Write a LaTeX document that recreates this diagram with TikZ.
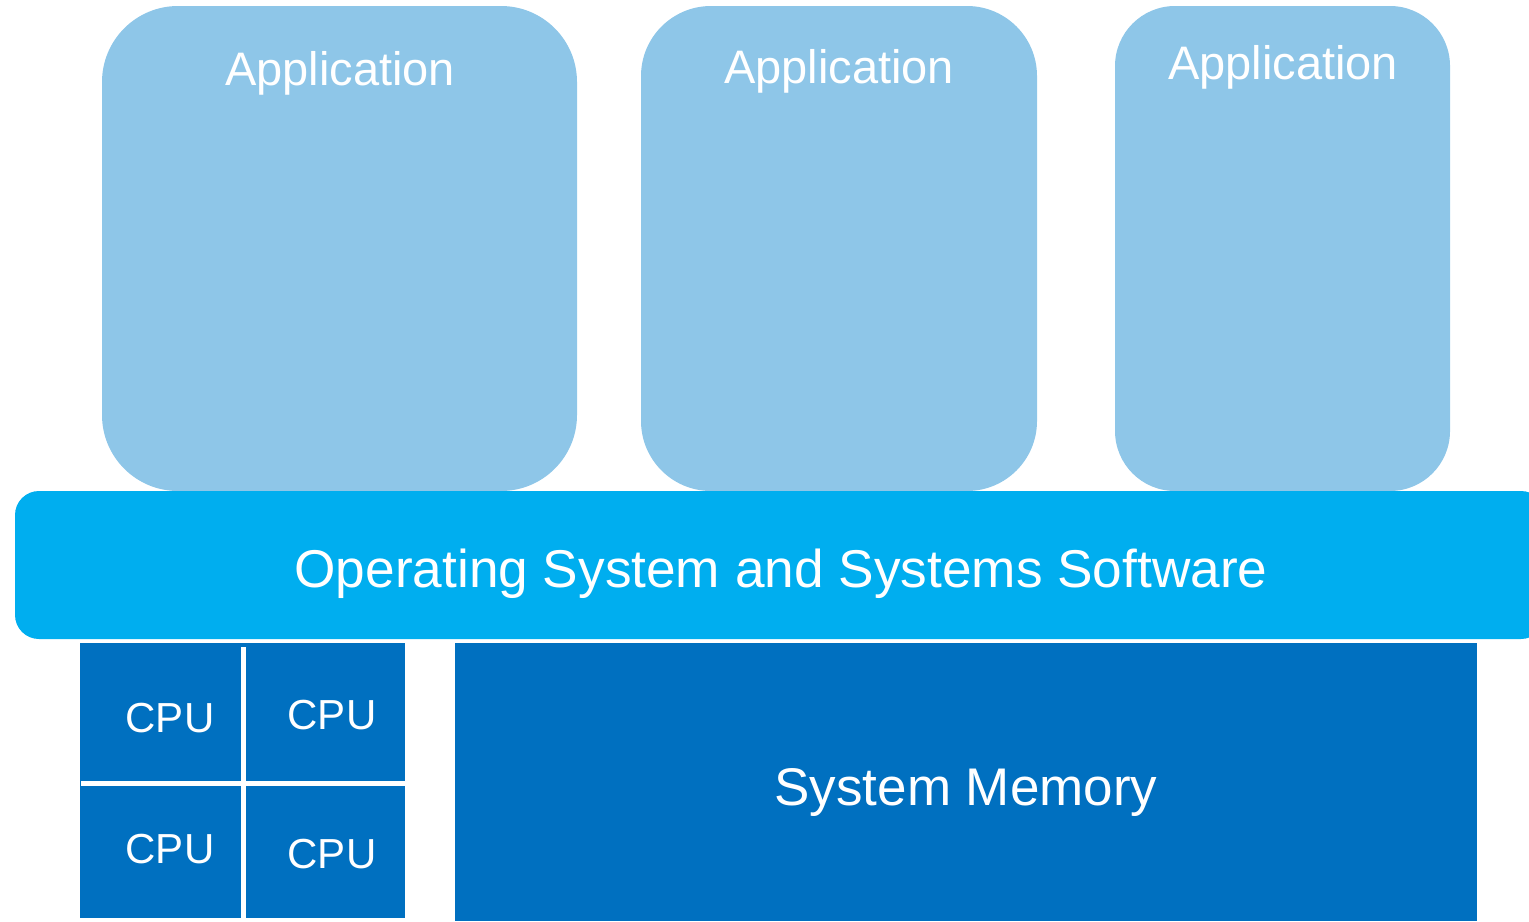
\documentclass[tikz,border=0pt]{standalone}
\usepackage{fontspec}
\setmainfont{Liberation Sans}
\definecolor{appblue}{HTML}{8EC6E8}
\definecolor{osblue}{HTML}{00AEEF}
\definecolor{hwblue}{HTML}{0070C0}
\begin{document}
\begin{tikzpicture}[x=0.5pt,y=-0.5pt]

      \useasboundingbox (0,0) rectangle (1529,921);

      % boxes
      \fill[appblue,rounded corners=38pt] (102,6)  rectangle (577,491);
      \fill[appblue,rounded corners=35pt] (641,6)  rectangle (1037,491);
      \fill[appblue,rounded corners=30pt] (1115,6) rectangle (1450,491);
      \fill[osblue,rounded corners=12pt]  (15,491) rectangle (1545,639);
      \fill[hwblue] (80,643)  rectangle (405,918);
      \fill[hwblue] (455,643) rectangle (1477,921);

      % gaps between the cpus
      \begin{scope}[white,line width=2.5pt]
        \draw (243,647) -- (243,921);
        \draw (81,783)  -- (405,783);
      \end{scope}

      \begin{scope}[every node/.style={text=white,anchor=base,inner sep=0pt}]
        \node[font=\fontsize{23.5}{28}\selectfont] (app1) at (340,85)  {Application};
        \node[font=\fontsize{23.5}{28}\selectfont] (app2) at (839,83)  {Application};
        \node[font=\fontsize{23.5}{28}\selectfont] (app3) at (1283,79) {Application};
        \node[font=\fontsize{26.6}{32}\selectfont] (os)   at (781,587) {Operating System and Systems Software};
        \node[font=\fontsize{21}{25}\selectfont] (cpu1) at (170,732) {CPU};
        \node[font=\fontsize{21}{25}\selectfont] (cpu2) at (332,729) {CPU};
        \node[font=\fontsize{21}{25}\selectfont] (cpu3) at (170,863) {CPU};
        \node[font=\fontsize{21}{25}\selectfont] (cpu4) at (332,868) {CPU};
        \node[font=\fontsize{26.5}{32}\selectfont] (mem)  at (966,805) {System Memory};
      \end{scope}

    \end{tikzpicture}
\end{document}
